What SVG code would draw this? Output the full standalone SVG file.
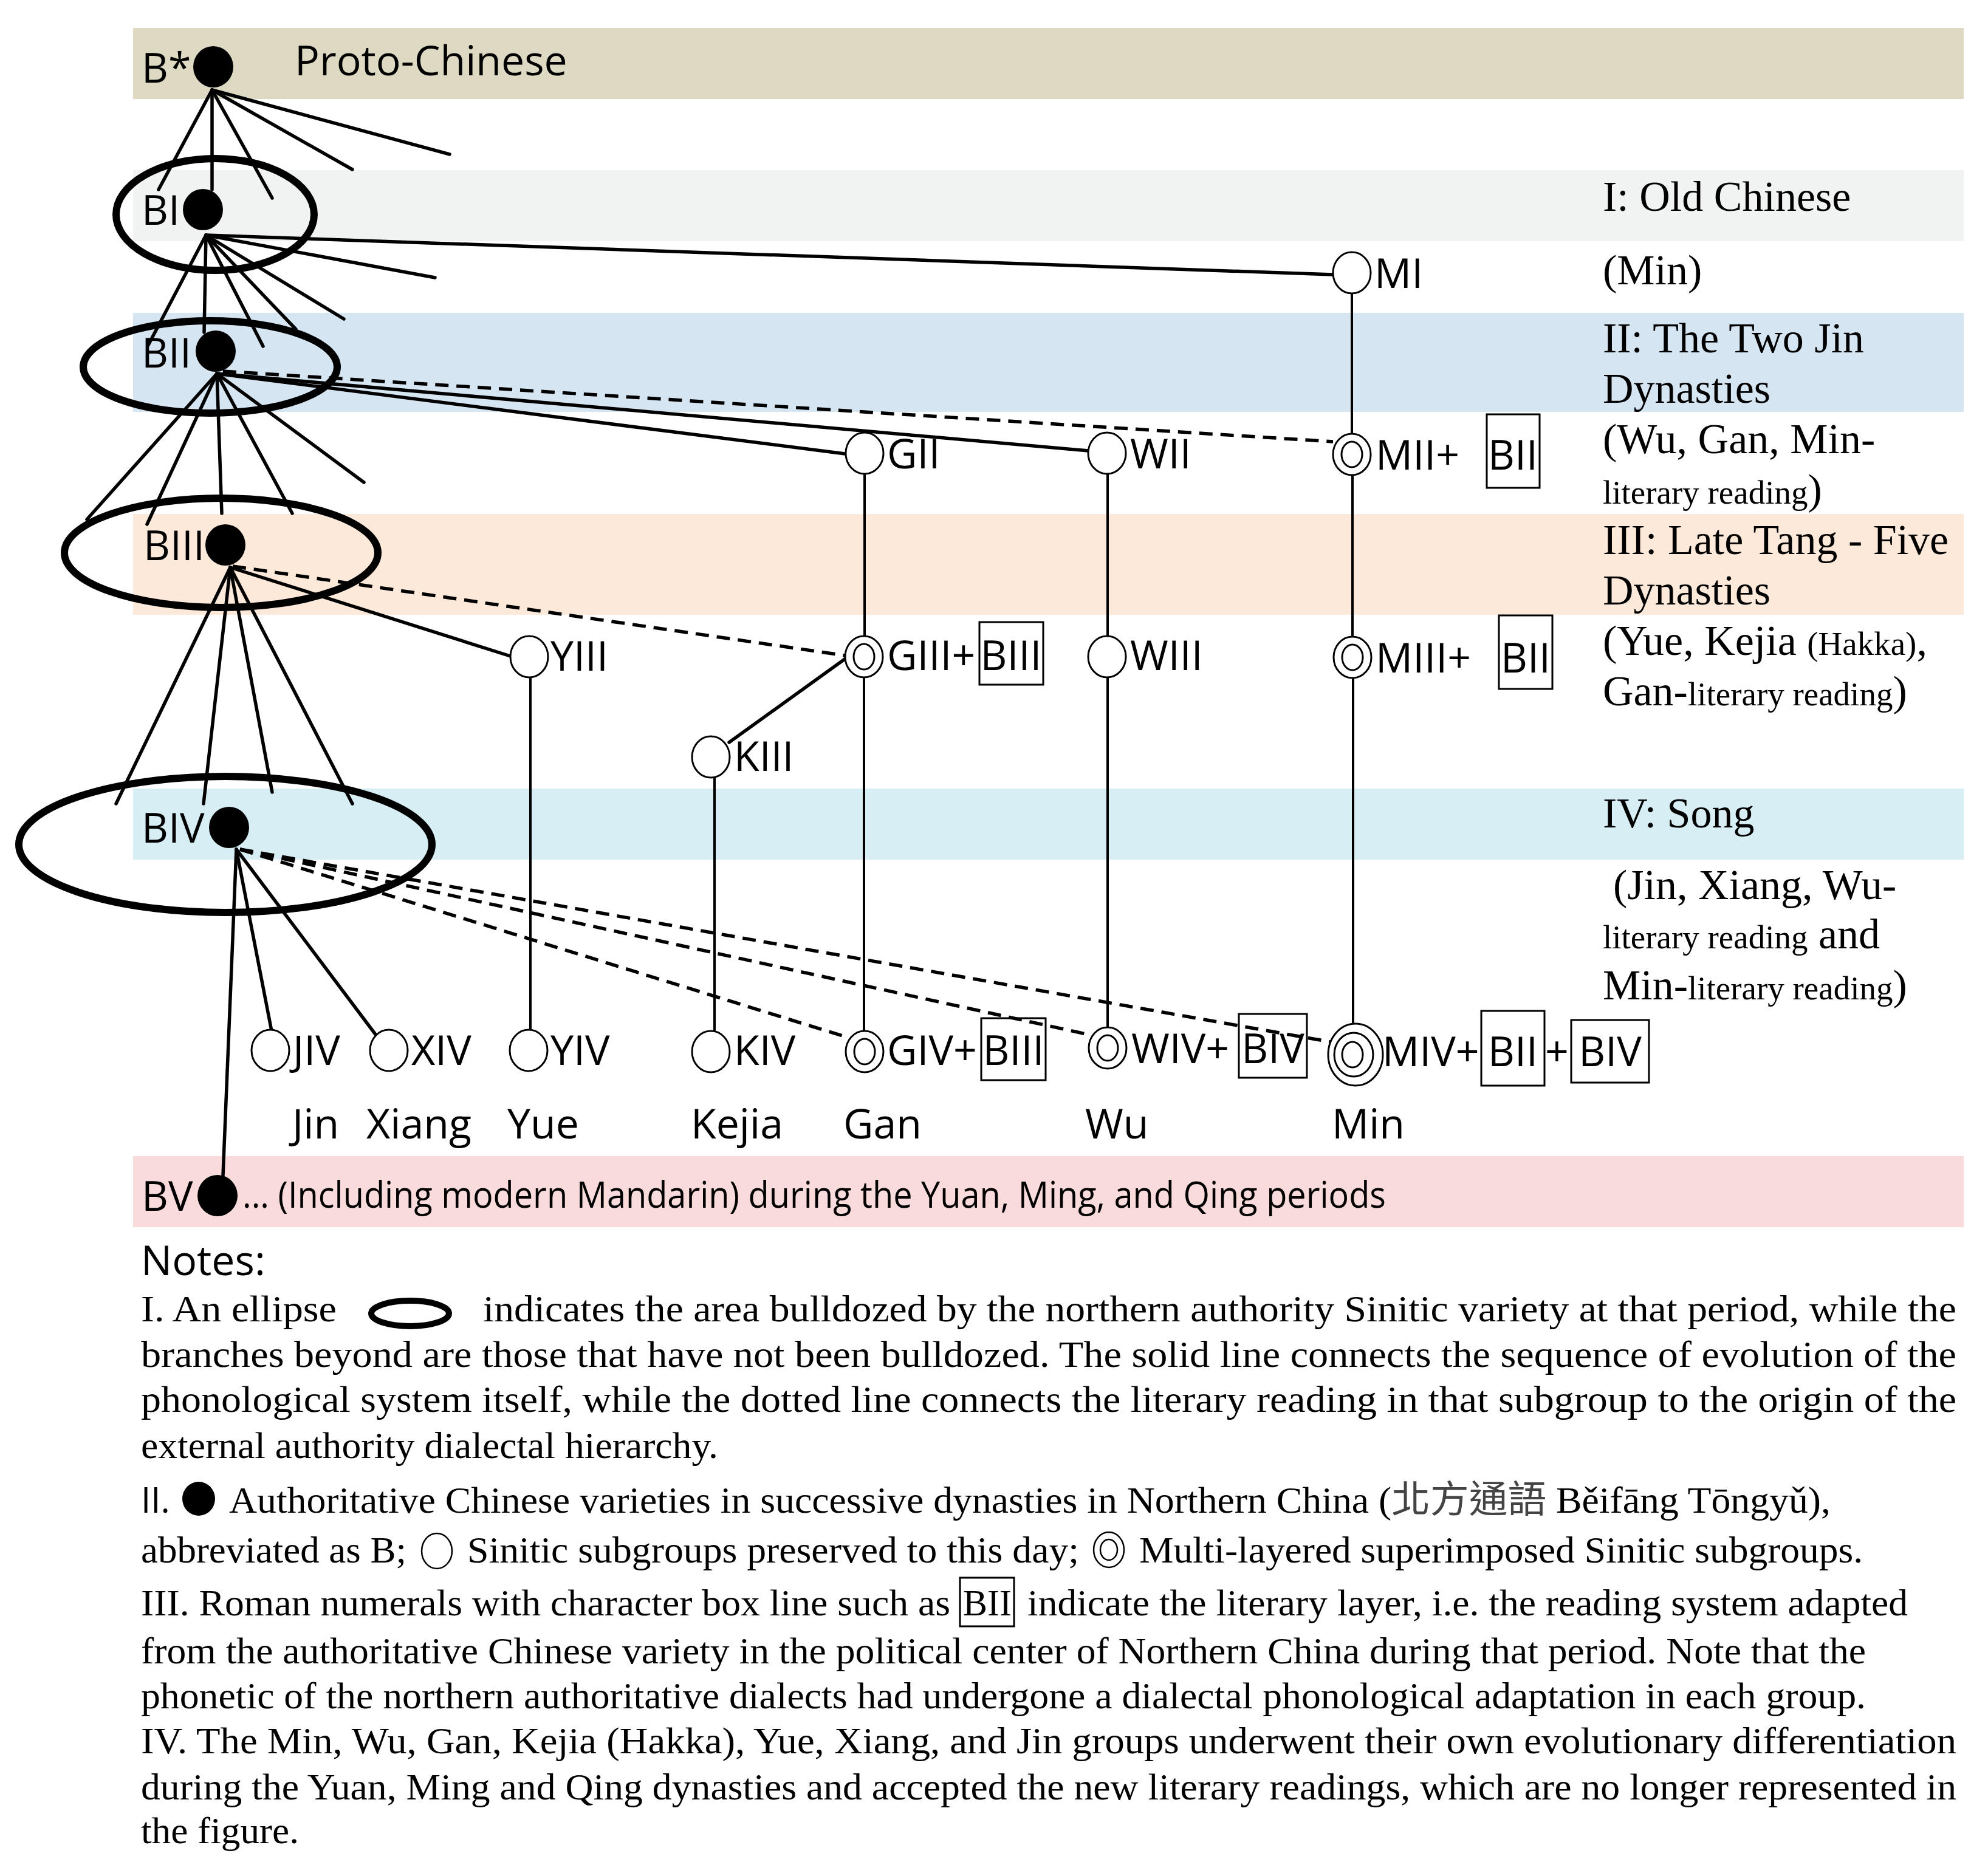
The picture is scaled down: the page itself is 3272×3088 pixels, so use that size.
<svg xmlns="http://www.w3.org/2000/svg" width="3272" height="3088" viewBox="0 0 3272 3088">
<style>
.s{font-family:"Open Sans","Liberation Sans",sans-serif;font-size:68px;fill:#000}
.t{font-family:"Liberation Serif","Times New Roman",serif;font-size:70px;fill:#000}
.sm{font-size:55px}
.nt{font-family:"Liberation Serif","Times New Roman",serif;font-size:62px;fill:#000}
.ln{stroke:#000;stroke-width:5.5;fill:none;stroke-linecap:round}
.vl{stroke:#000;stroke-width:4;fill:none}
.dl{stroke:#000;stroke-width:5.5;fill:none;stroke-dasharray:22 13}
.big{stroke:#000;stroke-width:12;fill:none}
.dot{fill:#000}
.oc{fill:#fff;stroke:#000;stroke-width:3}
.ic{fill:none;stroke:#000;stroke-width:3}
.box{fill:none;stroke:#000;stroke-width:3}
</style>
<rect width="3272" height="3088" fill="#fff"/>
<g id="bands">
<rect x="219" y="46" width="3013" height="117" fill="#DDD9C3"/>
<rect x="219" y="280" width="3013" height="117" fill="#F0F3F2"/>
<rect x="219" y="515" width="3013" height="163" fill="#D6E5F2"/>
<rect x="219" y="846" width="3013" height="166" fill="#FDE9DA"/>
<rect x="219" y="1298" width="3013" height="117" fill="#D6EEF4"/>
<rect x="219" y="1903" width="3013" height="117" fill="#F9DBDB"/>
</g>
<g id="periods">
<text class="t" x="2638" y="347">I: Old Chinese</text>
<text class="t" x="2638" y="468">(Min)</text>
<text class="t" x="2638" y="580">II: The Two Jin</text>
<text class="t" x="2638" y="663">Dynasties</text>
<text class="t" x="2638" y="746">(Wu, Gan, Min-</text>
<text class="t" x="2638" y="829"><tspan class="sm">literary reading</tspan>)</text>
<text class="t" x="2638" y="912">III: Late Tang - Five</text>
<text class="t" x="2638" y="995">Dynasties</text>
<text class="t" x="2638" y="1078">(Yue, Kejia <tspan class="sm">(Hakka)</tspan>,</text>
<text class="t" x="2638" y="1161">Gan-<tspan class="sm">literary reading</tspan>)</text>
<text class="t" x="2638" y="1362">IV: Song</text>
<text class="t" x="2655" y="1480">(Jin, Xiang, Wu-</text>
<text class="t" x="2638" y="1561"><tspan class="sm">literary reading</tspan> and</text>
<text class="t" x="2638" y="1645">Min-<tspan class="sm">literary reading</tspan>)</text>
</g>
<g id="ellipses">
<ellipse class="big" cx="354" cy="353" rx="163" ry="92"/>
<ellipse class="big" cx="346" cy="604" rx="209" ry="76"/>
<ellipse class="big" cx="364" cy="910" rx="258" ry="90"/>
<ellipse class="big" cx="371" cy="1390" rx="340" ry="112"/>
</g>
<g id="connectors">
<line class="ln" x1="349" y1="148" x2="261" y2="312"/>
<line class="ln" x1="349" y1="148" x2="349" y2="312"/>
<line class="ln" x1="349" y1="148" x2="448" y2="326"/>
<line class="ln" x1="349" y1="148" x2="580" y2="279"/>
<line class="ln" x1="349" y1="148" x2="740" y2="254"/>
<line class="ln" x1="339" y1="387" x2="2194" y2="452"/>
<line class="ln" x1="339" y1="387" x2="716" y2="457"/>
<line class="ln" x1="339" y1="387" x2="566" y2="525"/>
<line class="ln" x1="339" y1="387" x2="487" y2="542"/>
<line class="ln" x1="339" y1="387" x2="433" y2="570"/>
<line class="ln" x1="339" y1="387" x2="336" y2="547"/>
<line class="ln" x1="339" y1="387" x2="244" y2="568"/>
<line class="ln" x1="357" y1="615" x2="143" y2="855"/>
<line class="ln" x1="357" y1="615" x2="242" y2="863"/>
<line class="ln" x1="357" y1="615" x2="365" y2="845"/>
<line class="ln" x1="357" y1="615" x2="481" y2="845"/>
<line class="ln" x1="357" y1="615" x2="599" y2="794"/>
<line class="ln" x1="357" y1="615" x2="1391" y2="747"/>
<line class="ln" x1="357" y1="615" x2="1791" y2="742"/>
<line class="dl" x1="367" y1="611" x2="2194" y2="727"/>
<line class="ln" x1="379" y1="934" x2="191" y2="1323"/>
<line class="ln" x1="379" y1="934" x2="335" y2="1323"/>
<line class="ln" x1="379" y1="934" x2="448" y2="1304"/>
<line class="ln" x1="379" y1="934" x2="580" y2="1323"/>
<line class="ln" x1="379" y1="934" x2="840" y2="1080"/>
<line class="dl" x1="383" y1="932" x2="1391" y2="1079"/>
<line class="ln" x1="1393" y1="1083" x2="1200" y2="1222"/>
<line class="ln" x1="389" y1="1398" x2="367" y2="1935"/>
<line class="ln" x1="389" y1="1398" x2="447" y2="1697"/>
<line class="ln" x1="389" y1="1398" x2="622" y2="1708"/>
<line class="dl" x1="395" y1="1398" x2="1393" y2="1707"/>
<line class="dl" x1="395" y1="1398" x2="1792" y2="1703"/>
<line class="dl" x1="395" y1="1398" x2="2190" y2="1715"/>
<line class="vl" x1="2225" y1="483" x2="2225" y2="714"/>
<line class="vl" x1="2226" y1="782" x2="2226" y2="1048"/>
<line class="vl" x1="2227" y1="1116" x2="2227" y2="1685"/>
<line class="vl" x1="1423" y1="780" x2="1423" y2="1047"/>
<line class="vl" x1="1422" y1="1115" x2="1422" y2="1697"/>
<line class="vl" x1="1823" y1="780" x2="1823" y2="1047"/>
<line class="vl" x1="1823" y1="1115" x2="1823" y2="1691"/>
<line class="vl" x1="873" y1="1115" x2="873" y2="1695"/>
<line class="vl" x1="1176" y1="1280" x2="1176" y2="1697"/>
</g>
<g id="n-Bstar"><ellipse class="dot" cx="351" cy="110" rx="33" ry="34"/><text class="s" x="233" y="136">B*</text><text class="s" x="485" y="124">Proto-Chinese</text></g>
<g id="n-BI"><ellipse class="dot" cx="334" cy="345" rx="33" ry="34"/><text class="s" x="233" y="370">BI</text></g>
<g id="n-BII"><ellipse class="dot" cx="355" cy="578" rx="33" ry="34"/><text class="s" x="233" y="605">BII</text></g>
<g id="n-BIII"><ellipse class="dot" cx="371" cy="897" rx="33" ry="34"/><text class="s" x="236" y="922">BIII</text></g>
<g id="n-BIV"><ellipse class="dot" cx="377" cy="1362" rx="33" ry="34"/><text class="s" x="233" y="1387">BIV</text></g>
<g id="n-BV"><ellipse class="dot" cx="358" cy="1968" rx="33" ry="34"/><text class="s" x="233" y="1993">BV</text><text class="s" x="399" y="1988" style="font-size:60px" textLength="1882" lengthAdjust="spacingAndGlyphs">... (Including modern Mandarin) during the Yuan, Ming, and Qing periods</text></g>
<g id="n-MI"><ellipse class="oc" cx="2225" cy="449" rx="31" ry="34"/><text class="s" x="2262" y="474">MI</text></g>
<g id="n-GII"><ellipse class="oc" cx="1423" cy="746" rx="31" ry="34"/><text class="s" x="1460" y="771">GII</text></g>
<g id="n-WII"><ellipse class="oc" cx="1822" cy="746" rx="31" ry="34"/><text class="s" x="1860" y="771">WII</text></g>
<g id="n-MII"><ellipse class="oc" cx="2225" cy="748" rx="31" ry="34"/><ellipse class="ic" cx="2225" cy="748" rx="17" ry="21"/><text class="s" x="2264" y="773">MII+</text><rect class="box" x="2447" y="682" width="87" height="121"/><text class="s" x="2490" y="773" text-anchor="middle">BII</text></g>
<g id="n-YIII"><ellipse class="oc" cx="871" cy="1081" rx="31" ry="34"/><text class="s" x="906" y="1104">YIII</text></g>
<g id="n-GIII"><ellipse class="oc" cx="1422" cy="1081" rx="31" ry="34"/><ellipse class="ic" cx="1422" cy="1081" rx="17" ry="21"/><text class="s" x="1460" y="1103">GIII+</text><rect class="box" x="1612" y="1024" width="105" height="103"/><text class="s" x="1664" y="1103" text-anchor="middle">BIII</text></g>
<g id="n-WIII"><ellipse class="oc" cx="1822" cy="1081" rx="31" ry="34"/><text class="s" x="1860" y="1103">WIII</text></g>
<g id="n-MIII"><ellipse class="oc" cx="2226" cy="1082" rx="31" ry="34"/><ellipse class="ic" cx="2226" cy="1082" rx="17" ry="21"/><text class="s" x="2264" y="1107">MIII+</text><rect class="box" x="2467" y="1013" width="88" height="121"/><text class="s" x="2511" y="1107" text-anchor="middle">BII</text></g>
<g id="n-KIII"><ellipse class="oc" cx="1170" cy="1246" rx="31" ry="34"/><text class="s" x="1208" y="1269">KIII</text></g>
<g id="n-JIV"><ellipse class="oc" cx="445" cy="1729" rx="31" ry="34"/><text class="s" x="482" y="1753">JIV</text><text class="s" x="481" y="1874">Jin</text></g>
<g id="n-XIV"><ellipse class="oc" cx="640" cy="1729" rx="31" ry="34"/><text class="s" x="677" y="1753">XIV</text><text class="s" x="603" y="1874">Xiang</text></g>
<g id="n-YIV"><ellipse class="oc" cx="870" cy="1729" rx="31" ry="34"/><text class="s" x="906" y="1753">YIV</text><text class="s" x="835" y="1874">Yue</text></g>
<g id="n-KIV"><ellipse class="oc" cx="1170" cy="1731" rx="31" ry="34"/><text class="s" x="1208" y="1753">KIV</text><text class="s" x="1137" y="1874">Kejia</text></g>
<g id="n-GIV"><ellipse class="oc" cx="1423" cy="1731" rx="31" ry="34"/><ellipse class="ic" cx="1423" cy="1731" rx="17" ry="21"/><text class="s" x="1460" y="1753">GIV+</text><rect class="box" x="1615" y="1676" width="106" height="102"/><text class="s" x="1668" y="1753" text-anchor="middle">BIII</text><text class="s" x="1388" y="1874">Gan</text></g>
<g id="n-WIV"><ellipse class="oc" cx="1823" cy="1725" rx="31" ry="34"/><ellipse class="ic" cx="1823" cy="1725" rx="17" ry="21"/><text class="s" x="1862" y="1750">WIV+</text><rect class="box" x="2039" y="1669" width="112" height="105"/><text class="s" x="2095" y="1750" text-anchor="middle">BIV</text><text class="s" x="1786" y="1874">Wu</text></g>
<g id="n-MIV"><ellipse class="oc" cx="2231" cy="1736" rx="45" ry="51"/><ellipse class="ic" cx="2228" cy="1736" rx="32" ry="36"/><ellipse class="ic" cx="2226" cy="1736" rx="17" ry="21"/><text class="s" x="2275" y="1755">MIV+</text><rect class="box" x="2438" y="1664" width="104" height="123"/><text class="s" x="2490" y="1755" text-anchor="middle">BII</text><text class="s" x="2543" y="1755">+</text><rect class="box" x="2586" y="1679" width="128" height="103"/><text class="s" x="2650" y="1755" text-anchor="middle">BIV</text><text class="s" x="2192" y="1874">Min</text></g>
<g id="notes">
<text class="s" x="232" y="2099">Notes:</text>
<text class="nt" x="232" y="2175" textLength="322" lengthAdjust="spacingAndGlyphs">I. An ellipse</text>
<ellipse cx="675" cy="2162" rx="64" ry="21" fill="none" stroke="#000" stroke-width="10"/>
<text class="nt" x="795" y="2175" textLength="2425" lengthAdjust="spacingAndGlyphs">indicates the area bulldozed by the northern authority Sinitic variety at that period, while the</text>
<text class="nt" x="232" y="2250" textLength="2988" lengthAdjust="spacingAndGlyphs">branches beyond are those that have not been bulldozed. The solid line connects the sequence of evolution of the</text>
<text class="nt" x="232" y="2324" textLength="2988" lengthAdjust="spacingAndGlyphs">phonological system itself, while the dotted line connects the literary reading in that subgroup to the origin of the</text>
<text class="nt" x="232" y="2400" textLength="950" lengthAdjust="spacingAndGlyphs">external authority dialectal hierarchy.</text>
<text class="s" x="232" y="2490" style="font-size:58px">II.</text>
<ellipse class="dot" cx="327" cy="2467" rx="27" ry="28"/>
<text class="nt" x="377" y="2490" textLength="2636" lengthAdjust="spacingAndGlyphs">Authoritative Chinese varieties in successive dynasties in Northern China (<tspan style="font-family:'Noto Sans CJK TC','Noto Sans CJK SC',sans-serif;fill:#444">北方通語</tspan> Běifāng Tōngyǔ),</text>
<text class="nt" x="232" y="2572" textLength="437" lengthAdjust="spacingAndGlyphs">abbreviated as B;</text>
<ellipse cx="719" cy="2553" rx="25" ry="29" fill="none" stroke="#000" stroke-width="2.5"/>
<text class="nt" x="769" y="2572" textLength="1007" lengthAdjust="spacingAndGlyphs">Sinitic subgroups preserved to this day;</text>
<ellipse cx="1825" cy="2551" rx="25" ry="29" fill="none" stroke="#000" stroke-width="2.5"/>
<ellipse cx="1825" cy="2551" rx="14" ry="17" fill="none" stroke="#000" stroke-width="2.5"/>
<text class="nt" x="1875" y="2572" textLength="1191" lengthAdjust="spacingAndGlyphs">Multi-layered superimposed Sinitic subgroups.</text>
<text class="nt" x="232" y="2659" textLength="1332" lengthAdjust="spacingAndGlyphs">III. Roman numerals with character box line such as</text>
<rect class="box" x="1580" y="2597" width="89" height="80"/>
<text class="nt" x="1585" y="2659" textLength="80" lengthAdjust="spacingAndGlyphs">BII</text>
<text class="nt" x="1691" y="2659" textLength="1449" lengthAdjust="spacingAndGlyphs">indicate the literary layer, i.e. the reading system adapted</text>
<text class="nt" x="232" y="2738" textLength="2839" lengthAdjust="spacingAndGlyphs">from the authoritative Chinese variety in the political center of Northern China during that period. Note that the</text>
<text class="nt" x="232" y="2812" textLength="2839" lengthAdjust="spacingAndGlyphs">phonetic of the northern authoritative dialects had undergone a dialectal phonological adaptation in each group.</text>
<text class="nt" x="232" y="2886" textLength="2988" lengthAdjust="spacingAndGlyphs">IV. The Min, Wu, Gan, Kejia (Hakka), Yue, Xiang, and Jin groups underwent their own evolutionary differentiation</text>
<text class="nt" x="232" y="2962" textLength="2988" lengthAdjust="spacingAndGlyphs">during the Yuan, Ming and Qing dynasties and accepted the new literary readings, which are no longer represented in</text>
<text class="nt" x="232" y="3034" textLength="260" lengthAdjust="spacingAndGlyphs">the figure.</text>
</g>
</svg>
